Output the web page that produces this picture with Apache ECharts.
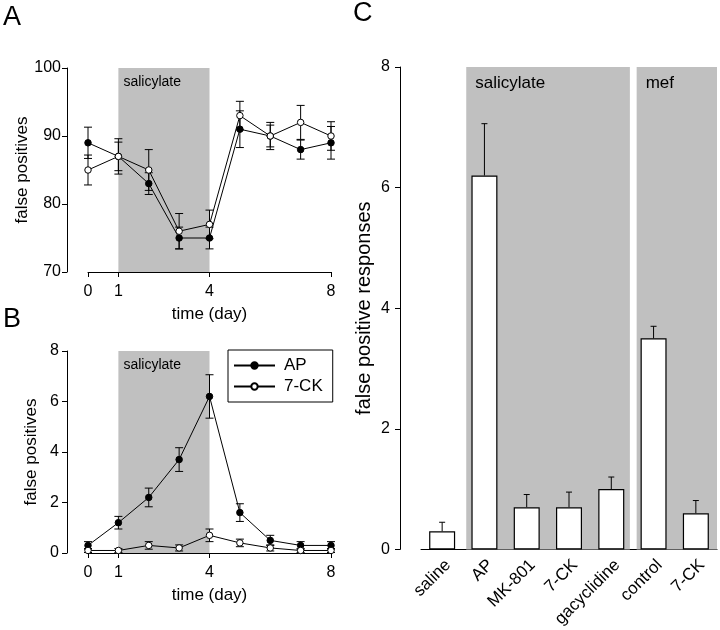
<!DOCTYPE html>
<html><head><meta charset="utf-8">
<script src="https://cdn.jsdelivr.net/npm/echarts@6/dist/echarts.min.js"></script>
<style>html,body{margin:0;padding:0;background:#fff}#c{width:720px;height:630px}</style>
</head><body><div id="c"></div><script>
// ---- data ----
const days = [0, 1, 2, 3, 4, 5, 6, 7, 8];
const dayTicks = [0, 1, 4, 8];
const salicylateDays = [1, 4];
// Panel A
const aAP = [89, 87, 83, 75, 75, 91, 90, 88, 89];
const aAPErr = [2.3, 2.6, 1.6, 1.6, 1.6, 2.7, 2.0, 1.4, 2.4];
const aCK = [85, 87, 85, 76, 77, 93, 90, 92, 90];
const aCKErr = [2.2, 2.1, 3.0, 2.6, 2.1, 2.1, 1.6, 2.5, 2.1];
const aYTicks = [70, 100, 10]; // min, max, step
// Panel B
const bAP = [0.3, 1.2, 2.2, 3.7, 6.2, 1.6, 0.5, 0.3, 0.3];
const bAPErr = [0.15, 0.25, 0.37, 0.47, 0.86, 0.35, 0.2, 0.15, 0.15];
const bCK = [0.1, 0.1, 0.3, 0.2, 0.7, 0.4, 0.2, 0.1, 0.1];
const bCKErr = [0.08, 0.08, 0.15, 0.12, 0.25, 0.15, 0.12, 0.08, 0.08];
const bYTicks = [0, 8, 2];
// Panel C
const cCats = ['saline', 'AP', 'MK-801', '7-CK', 'gacyclidine', 'control', '7-CK'];
const cVals = [0.3, 6.2, 0.7, 0.7, 1.0, 3.5, 0.6];
const cErr = [0.15, 0.86, 0.21, 0.25, 0.2, 0.2, 0.21];
const cYTicks = [0, 8, 2];
const cShadeNames = ['salicylate', 'mef'];
const cShadeFrom = [0.57, 4.6];
const cShadeTo = [4.44, 6.5];

// ---- chart ----
const FF = '"Liberation Sans", Arial, Helvetica, sans-serif';
const chart = echarts.init(document.getElementById('c'));

function errRender(capHalf, onlyUp) {
  return function (params, api) {
    const x = api.value(0), lo = api.value(1), hi = api.value(2);
    const pLo = api.coord([x, lo]), pHi = api.coord([x, hi]);
    const style = { stroke: '#000', lineWidth: 1, fill: null };
    const ch = [
      { type: 'line', shape: { x1: pLo[0], y1: pLo[1], x2: pHi[0], y2: pHi[1] }, style },
      { type: 'line', shape: { x1: pHi[0] - capHalf, y1: pHi[1], x2: pHi[0] + capHalf, y2: pHi[1] }, style }
    ];
    if (!onlyUp) ch.push({ type: 'line', shape: { x1: pLo[0] - capHalf, y1: pLo[1], x2: pLo[0] + capHalf, y2: pLo[1] }, style });
    return { type: 'group', children: ch };
  };
}
function errData(xs, vals, errs) { return vals.map((v, i) => [xs[i], v - errs[i], v + errs[i]]); }
function upErrData(vals, errs) { return vals.map((v, i) => [i, v, v + errs[i]]); }

const axLine = { show: true, onZero: false, lineStyle: { color: '#000', width: 1 } };
const axTick = { show: true, length: 5, lineStyle: { color: '#000', width: 1 } };
const lbl = { color: '#000', fontSize: 16, fontFamily: FF };

function dayAxis(gi) {
  return {
    type: 'value', gridIndex: gi, min: 0, max: 8,
    axisLine: axLine,
    axisTick: Object.assign({}, axTick, { customValues: dayTicks }),
    axisLabel: Object.assign({}, lbl, { customValues: dayTicks, margin: 12 }),
    splitLine: { show: false },
    name: 'time (day)', nameLocation: 'middle', nameGap: 34,
    nameTextStyle: { color: '#000', fontSize: 17, fontFamily: FF }
  };
}
function valAxis(gi, t, name, gap, nameSize, margin) {
  const o = {
    type: 'value', gridIndex: gi, min: t[0], max: t[1], interval: t[2], offset: 21,
    axisLine: axLine, axisTick: axTick,
    axisLabel: Object.assign({}, lbl, { margin: margin }),
    splitLine: { show: false }
  };
  if (name) {
    o.name = name; o.nameLocation = 'middle'; o.nameGap = gap;
    o.nameTextStyle = { color: '#000', fontSize: nameSize, fontFamily: FF };
  }
  return o;
}
function shadeSeries(xi, yi, areas, fontSize, offset) {
  return {
    type: 'line', xAxisIndex: xi, yAxisIndex: yi, data: [], silent: true, z: 1,
    markArea: {
      silent: true,
      itemStyle: { color: '#c0c0c0', opacity: 1, borderWidth: 0 },
      label: { show: true, position: 'insideTopLeft', color: '#000', fontSize: fontSize, fontFamily: FF, offset: offset },
      emphasis: { disabled: true },
      data: areas
    }
  };
}
function lineSeries(name, xi, yi, vals, filled) {
  return {
    type: 'line', name: name, xAxisIndex: xi, yAxisIndex: yi, z: 4,
    data: vals.map((v, i) => [days[i], v]),
    symbol: 'circle', symbolSize: 6.5, showAllSymbol: true,
    lineStyle: { color: '#000', width: 1 },
    itemStyle: { color: filled ? '#000' : '#fff', borderColor: '#000', borderWidth: 1 },
    emphasis: { disabled: true }
  };
}
function errSeries(xi, yi, data, cap, onlyUp) {
  return {
    type: 'custom', xAxisIndex: xi, yAxisIndex: yi, z: 3, silent: true,
    renderItem: errRender(cap, onlyUp), data: data,
    encode: { x: 0, y: [1, 2] }
  };
}

const salArea = [[{ name: 'salicylate', xAxis: salicylateDays[0] }, { xAxis: salicylateDays[1] }]];
const cAreas = cShadeNames.map((n, i) => [{ name: n, xAxis: cShadeFrom[i] }, { xAxis: cShadeTo[i] }]);

const option = {
  animation: false,
  textStyle: { fontFamily: FF },
  graphic: [
    { type: 'text', x: 3, y: 4, style: { text: 'A', font: '27px ' + FF, fill: '#000', textVerticalAlign: 'top' } },
    { type: 'text', x: 3, y: 306, style: { text: 'B', font: '27px ' + FF, fill: '#000', textVerticalAlign: 'top' } },
    { type: 'text', x: 353, y: 0, style: { text: 'C', font: '27px ' + FF, fill: '#000', textVerticalAlign: 'top' } }
  ],
  grid: [
    { left: 88, top: 68, width: 243, height: 204 },
    { left: 88, top: 351, width: 243, height: 202 },
    { left: 421, top: 67, width: 296, height: 485 }
  ],
  legend: {
    data: ['AP', '7-CK'], orient: 'vertical', left: 228, top: 350,
    padding: [7, 10, 7, 5], itemGap: 4, itemWidth: 41, itemHeight: 8,
    borderColor: '#000', borderWidth: 1, backgroundColor: '#fff',
    textStyle: { color: '#000', fontSize: 17, fontFamily: FF, lineHeight: 16, padding: [0, 0, 0, 4] },
    selectedMode: false
  },
  xAxis: [
    dayAxis(0), dayAxis(1),
    {
      type: 'category', gridIndex: 2, data: cCats,
      axisLine: axLine, axisTick: { show: false },
      axisLabel: Object.assign({}, lbl, { fontSize: 17, rotate: 45, interval: 0, margin: 7, verticalAlign: 'top' })
    },
    { type: 'value', gridIndex: 2, min: -0.5, max: 6.5, show: false }
  ],
  yAxis: [
    valAxis(0, aYTicks, 'false positives', 33, 17, 6),
    valAxis(1, bYTicks, 'false positives', 27, 17, 8),
    valAxis(2, cYTicks, 'false positive responses', 26, 20, 10)
  ],
  series: [
    shadeSeries(0, 0, salArea, 14, [0, 2]),
    shadeSeries(1, 1, salArea, 14, [0, 2]),
    shadeSeries(3, 2, cAreas, 17, [4, 3]),
    errSeries(0, 0, errData(days, aAP, aAPErr), 4, false),
    errSeries(0, 0, errData(days, aCK, aCKErr), 4, false),
    lineSeries('AP', 0, 0, aAP, true),
    lineSeries('7-CK', 0, 0, aCK, false),
    errSeries(1, 1, errData(days, bAP, bAPErr), 4, false),
    errSeries(1, 1, errData(days, bCK, bCKErr), 4, false),
    lineSeries('AP', 1, 1, bAP, true),
    lineSeries('7-CK', 1, 1, bCK, false),
    {
      type: 'bar', name: 'responses', xAxisIndex: 2, yAxisIndex: 2, z: 3,
      data: cVals, barWidth: 26,
      itemStyle: { color: '#fff', borderColor: '#000', borderWidth: 1.2 },
      emphasis: { disabled: true }
    },
    errSeries(2, 2, upErrData(cVals, cErr), 3, true)
  ]
};
chart.setOption(option);
</script></body></html>
